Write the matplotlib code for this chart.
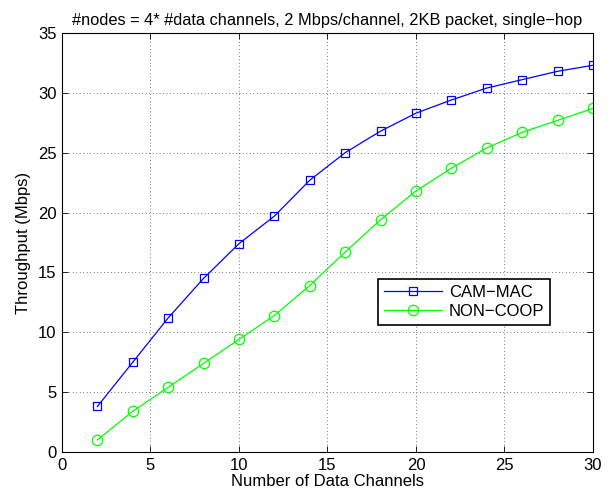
import matplotlib
matplotlib.use('Agg')
import matplotlib.pyplot as plt

# data
channels = [2, 4, 6, 8, 10, 12, 14, 16, 18, 20, 22, 24, 26, 28, 30]
cam_mac = [3.8, 7.5, 11.2, 14.5, 17.4, 19.7, 22.7, 25.0, 26.8, 28.3, 29.4, 30.4, 31.1, 31.8, 32.3]
non_coop = [1.0, 3.4, 5.4, 7.4, 9.4, 11.4, 13.9, 16.7, 19.4, 21.8, 23.7, 25.4, 26.7, 27.7, 28.7]

plt.rcParams['font.family'] = ['Liberation Sans', 'DejaVu Sans']
plt.rcParams['font.size'] = 12

fig = plt.figure(figsize=(6.1, 4.95), dpi=100)
ax = fig.add_axes([0.1016, 0.0869, 0.8705, 0.8465])

ax.plot(channels, cam_mac, color='#0000ff', marker='s', markersize=6,
        markerfacecolor='none', markeredgewidth=0.9, linewidth=0.9, label='CAM\u2212MAC')
ax.plot(channels, non_coop, color='#00ff00', marker='o', markersize=7.5,
        markerfacecolor='none', markeredgewidth=0.9, linewidth=0.9, label='NON\u2212COOP')

ax.set_xlim(0, 30)
ax.set_ylim(0, 35)
ax.set_xticks(range(0, 31, 5))
ax.set_yticks(range(0, 36, 5))
ax.tick_params(direction='in', top=True, right=True, length=4, width=0.6,
               labelsize=12, pad=4)
ax.grid(True, color='black', linestyle=(0, (1, 4)), linewidth=0.5)
for s in ax.spines.values():
    s.set_linewidth(0.8)

ax.set_xlabel('Number of Data Channels', fontsize=12, labelpad=1)
ax.set_ylabel('Throughput (Mbps)', fontsize=12, labelpad=5)
ax.set_title('#nodes = 4* #data channels, 2 Mbps/channel, 2KB packet, single\u2212hop',
             fontsize=11.8, pad=6)

leg = ax.legend(loc='upper left', bbox_to_anchor=(0.595, 0.413), fontsize=12,
                fancybox=False, framealpha=1, edgecolor='black',
                handlelength=3.5, borderpad=0.35, labelspacing=0.25,
                handletextpad=0.4, borderaxespad=0)
leg.get_frame().set_linewidth(1.2)

fig.savefig('out.png', dpi=100)
